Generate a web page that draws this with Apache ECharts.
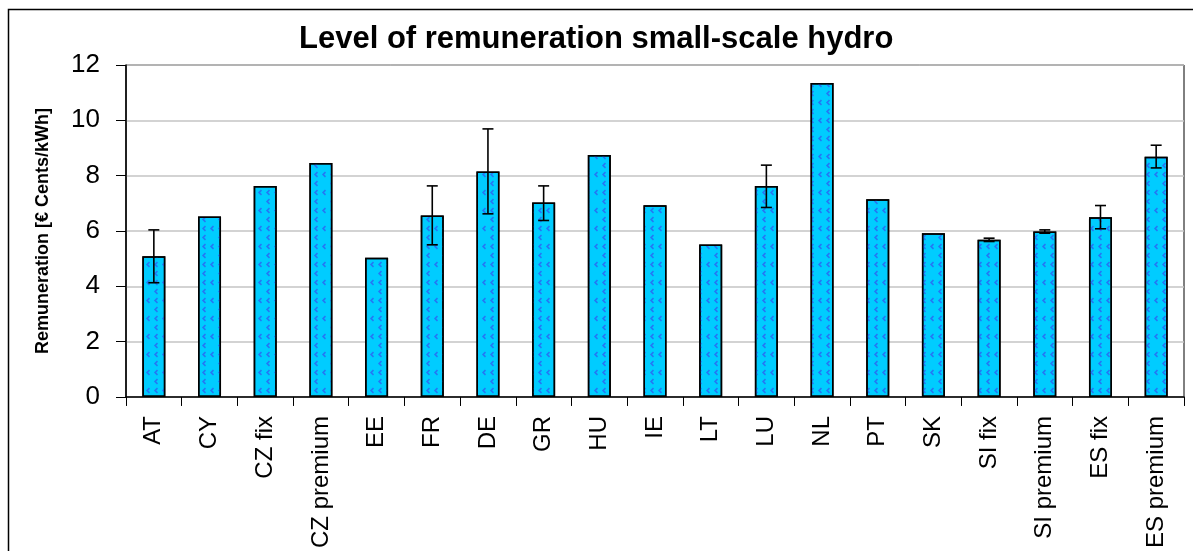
<!DOCTYPE html>
<html>
<head>
<meta charset="utf-8">
<title>Level of remuneration small-scale hydro</title>
<script src="https://cdn.jsdelivr.net/npm/echarts@6/dist/echarts.min.js"></script>
<style>
  html, body { margin: 0; padding: 0; background: #fff; }
  #chart { width: 1193px; height: 551px; }
</style>
</head>
<body>
<div id="chart"></div>
<script>
// countries / support schemes
var categories = ['AT', 'CY', 'CZ fix', 'CZ premium', 'EE', 'FR', 'DE', 'GR', 'HU', 'IE',
  'LT', 'LU', 'NL', 'PT', 'SK', 'SI fix', 'SI premium', 'ES fix', 'ES premium'];
// average remuneration, € cents/kWh
var values = [5.09, 6.52, 7.63, 8.46, 5.03, 6.56, 8.15, 7.03, 8.75, 6.93,
  5.51, 7.63, 11.35, 7.15, 5.92, 5.68, 5.98, 6.50, 8.68];
// range min / max (null = no range shown)
var errLow = [4.13, null, null, null, null, 5.50, 6.62, 6.38, null, null,
  null, 6.85, null, null, null, 5.62, 5.92, 6.08, 8.28];
var errHigh = [6.04, null, null, null, null, 7.63, 9.69, 7.63, null, null,
  null, 8.38, null, null, null, 5.74, 6.04, 6.92, 9.10];
var yTicks = { min: 0, max: 12, interval: 2 };

var font = "'Liberation Sans', Arial, sans-serif";

var errData = [];
for (var i = 0; i < categories.length; i++) {
  if (errLow[i] != null && errHigh[i] != null) {
    errData.push([i, errLow[i], errHigh[i]]);
  }
}

var chart = echarts.init(document.getElementById('chart'));

var option = {
  animation: false,
  backgroundColor: '#fff',
  textStyle: { fontFamily: font },
  title: {
    text: 'Level of remuneration small-scale hydro',
    left: 299,
    top: 24,
    padding: 0,
    textStyle: { fontFamily: font, fontSize: 31, fontWeight: 'bold', color: '#000' }
  },
  graphic: [{
    type: 'rect',
    shape: { x: 8.5, y: 9.5, width: 1220, height: 600 },
    style: { fill: 'none', stroke: '#000', lineWidth: 1.5 },
    silent: true
  }],
  grid: {
    left: 126, top: 65, right: 9, bottom: 152,
    show: true, borderColor: '#000', borderWidth: 1, backgroundColor: 'transparent'
  },
  xAxis: {
    type: 'category',
    data: categories,
    axisLine: { lineStyle: { color: '#000', width: 1.5 } },
    axisTick: { show: true, length: 9, interval: 0, lineStyle: { color: '#000', width: 1 } },
    axisLabel: {
      interval: 0, rotate: 90, margin: 19,
      fontSize: 24, color: '#000', fontFamily: font
    },
    splitLine: { show: false }
  },
  yAxis: {
    type: 'value',
    min: yTicks.min, max: yTicks.max, interval: yTicks.interval,
    name: 'Remuneration [€ Cents/kWh]',
    nameLocation: 'middle',
    nameRotate: 90,
    nameGap: 74,
    nameTextStyle: { fontFamily: font, fontSize: 18, fontWeight: 'bold', color: '#000' },
    axisLine: { show: true, lineStyle: { color: '#000', width: 1.5 } },
    axisTick: { show: true, length: 10, lineStyle: { color: '#000', width: 1 } },
    axisLabel: { margin: 26, fontSize: 26, color: '#000', fontFamily: font },
    splitLine: { show: true, lineStyle: { color: '#c4c4c4', width: 1.5 } }
  },
  series: [{
    type: 'bar',
    data: values,
    barWidth: 23,
    itemStyle: {
      color: '#00ccff',
      borderColor: '#000',
      borderWidth: 1.5,
      decal: {
        symbol: 'path://M4,0 L0,4 L4,8 L5.5,6.5 L3,4 L5.5,1.5 Z',
        symbolSize: 0.85,
        symbolKeepAspect: true,
        color: 'rgba(50,90,240,0.75)',
        backgroundColor: null,
        dashArrayX: [[8, 0], [0, 8, 8, 0]],
        dashArrayY: [7, 2],
        rotation: 0
      }
    },
    z: 2
  }, {
    type: 'custom',
    data: errData,
    z: 5,
    renderItem: function (params, api) {
      var x = api.value(0);
      var lo = api.coord([x, api.value(1)]);
      var hi = api.coord([x, api.value(2)]);
      var half = 5.5;
      var style = { stroke: '#000', lineWidth: 1.6, fill: null };
      return {
        type: 'group',
        children: [
          { type: 'line', shape: { x1: lo[0], y1: lo[1], x2: hi[0], y2: hi[1] }, style: style },
          { type: 'line', shape: { x1: hi[0] - half, y1: hi[1], x2: hi[0] + half, y2: hi[1] }, style: style },
          { type: 'line', shape: { x1: lo[0] - half, y1: lo[1], x2: lo[0] + half, y2: lo[1] }, style: style }
        ]
      };
    }
  }]
};

chart.setOption(option);
</script>
</body>
</html>
